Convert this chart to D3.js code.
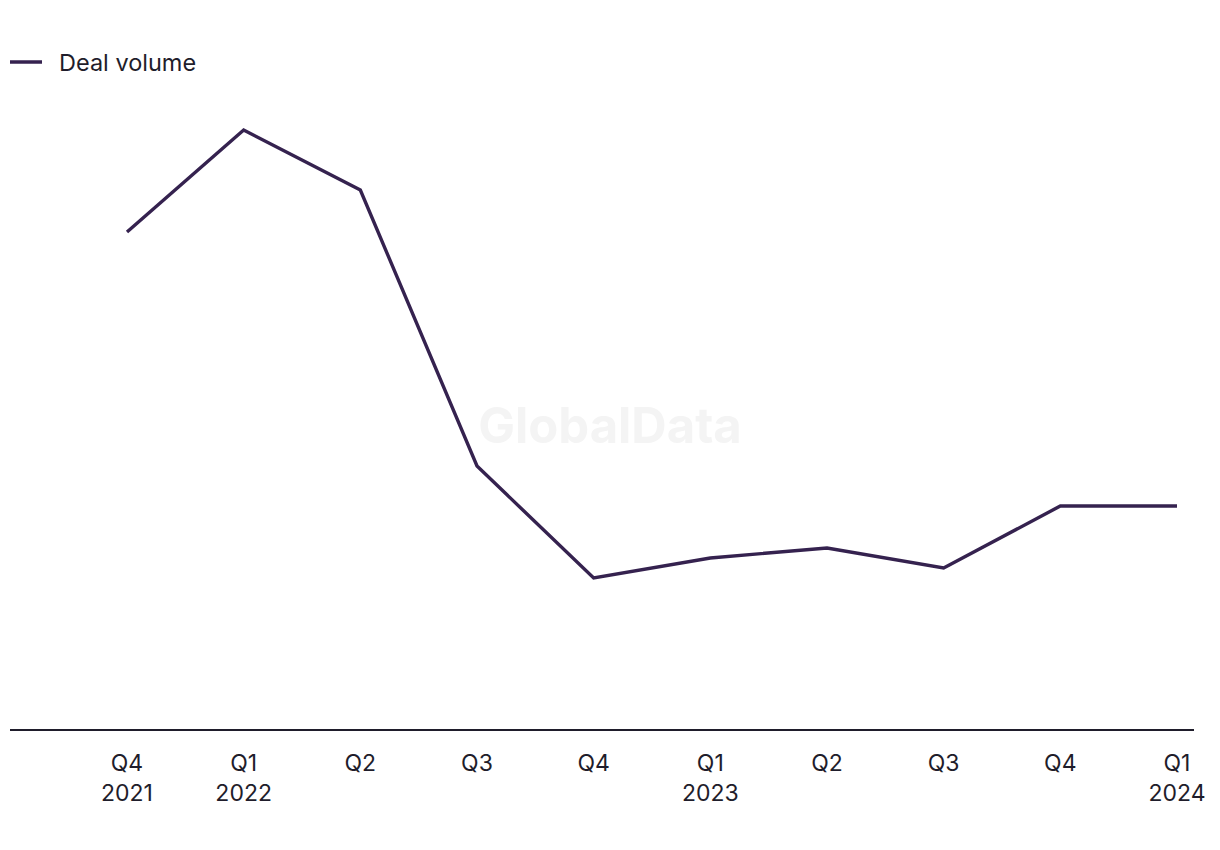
<!DOCTYPE html>
<html>
<head>
<meta charset="utf-8">
<script src="https://cdn.jsdelivr.net/npm/d3@7"></script>
<style>
  html, body { margin: 0; padding: 0; background: #ffffff; }
  svg { display: block; font-family: "Inter", "Liberation Sans", sans-serif; }
</style>
</head>
<body>
<svg id="chart" width="1220" height="850"></svg>
<script>
const quarters = ["Q4", "Q1", "Q2", "Q3", "Q4", "Q1", "Q2", "Q3", "Q4", "Q1"];
const years = ["2021", "2022", "", "", "", "2023", "", "", "", "2024"];
const dealVolume = [249, 300, 270, 132, 76, 86, 91, 81, 112, 112];
const seriesName = "Deal volume";

const svg = d3.select("#chart");
const lineColor = "#35224f";
const textColor = "#1f1d2b";

const keys = quarters.map((q, i) => i);
const x = d3.scalePoint().domain(keys).range([127, 1177]);
const y = d3.scaleLinear().domain([0, 300]).range([730, 130]);

// watermark
svg.append("text")
  .attr("x", 610).attr("y", 443)
  .attr("text-anchor", "middle")
  .attr("font-size", 49).attr("font-weight", 700)
  .attr("fill", "#f4f4f4")
  .text("GlobalData");

// x axis baseline
svg.append("line")
  .attr("x1", 10).attr("x2", 1194)
  .attr("y1", y(0)).attr("y2", y(0))
  .attr("stroke", textColor).attr("stroke-width", 2);

// tick labels
const ticks = svg.append("g");
keys.forEach(i => {
  const t = ticks.append("text")
    .attr("x", x(i)).attr("y", 771)
    .attr("text-anchor", "middle")
    .attr("font-size", 23)
    .attr("fill", textColor);
  t.append("tspan").attr("x", x(i)).text(quarters[i]);
  if (years[i]) t.append("tspan").attr("x", x(i)).attr("dy", 30).text(years[i]);
});

// line
const line = d3.line().x((d, i) => x(i)).y(d => y(d));
svg.append("path")
  .datum(dealVolume)
  .attr("d", line)
  .attr("fill", "none")
  .attr("stroke", lineColor)
  .attr("stroke-width", 3.4)
  .attr("stroke-linejoin", "miter");

// legend
svg.append("line")
  .attr("x1", 10).attr("x2", 42).attr("y1", 62).attr("y2", 62)
  .attr("stroke", lineColor).attr("stroke-width", 3.5);
svg.append("text")
  .attr("x", 59).attr("y", 71)
  .attr("font-size", 23.5).attr("fill", textColor)
  .text(seriesName);
</script>
</body>
</html>
